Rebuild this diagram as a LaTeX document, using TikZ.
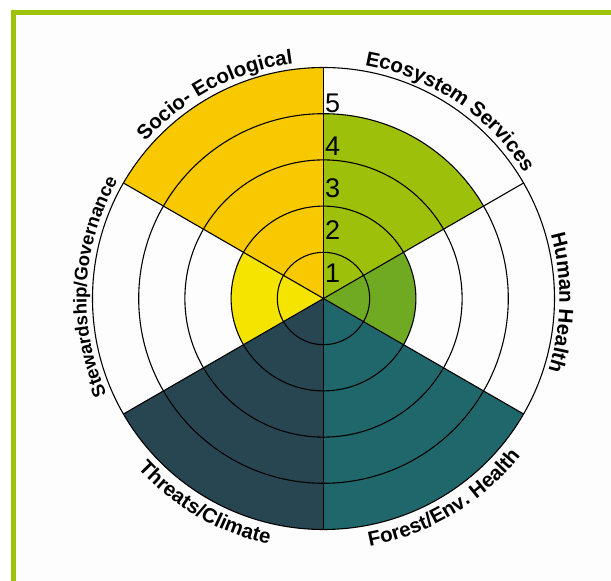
\documentclass[tikz,border=0pt]{standalone}
\usepackage{fontspec}
\usetikzlibrary{decorations.text}

\newfontfamily\chartfamily{Liberation Sans}
\newcommand\arclabelfont{\chartfamily\bfseries\fontsize{20.5}{24}\selectfont}
\newcommand\arclabelsmallfont{\chartfamily\bfseries\fontsize{18.5}{22}\selectfont}
\newcommand\scorefont{\chartfamily\fontsize{27}{30}\selectfont}

\definecolor{framegreen}{HTML}{9DC40A}
\definecolor{paper}{HTML}{FDFDFD}
\definecolor{socio}{HTML}{F9C900}
\definecolor{steward}{HTML}{F5E400}
\definecolor{ecosys}{HTML}{9DC10A}
\definecolor{human}{HTML}{6FAA22}
\definecolor{forest}{HTML}{20676C}
\definecolor{threats}{HTML}{284652}

\tikzset{ring/.style={draw=black, line width=1.1pt}}
\tikzset{spoke/.style={draw=black, line width=1.1pt}}
\tikzset{score/.style={anchor=west, inner sep=0pt, font=\scorefont}}
\tikzset{arclabel/.style={decorate, decoration={text along path, text align=center, text={|\arclabelfont|#1}}}}
\tikzset{arclabelsmall/.style={decorate, decoration={text along path, text align=center, text={|\arclabelsmallfont|#1}}}}

\begin{document}
\begin{tikzpicture}[x=1pt, y=1pt]
  \useasboundingbox (-323.5,-282.5) rectangle (287.5,298.5);

  % page and frame
  \fill[paper] (-307.5,-282.5) rectangle (287.5,283.5);
  \draw[framegreen, line width=5pt] (-310,-282.5) -- (-310,286) -- (287.5,286);

  % sectors
  \fill[socio] (0,0) -- (90:231) arc (90:150:231) -- cycle;
  \fill[ecosys] (0,0) -- (30:184.8) arc (30:90:184.8) -- cycle;
  \fill[human] (0,0) -- (-30:92.4) arc (-30:30:92.4) -- cycle;
  \fill[forest] (0,0) -- (-90:231) arc (-90:-30:231) -- cycle;
  \fill[threats] (0,0) -- (-150:231) arc (-150:-90:231) -- cycle;
  \fill[steward] (0,0) -- (150:92.4) arc (150:210:92.4) -- cycle;

  % rings
  \coordinate (hub) at (0,0);
  \draw[ring] (hub) circle (46.2);
  \draw[ring] (hub) circle (92.4);
  \draw[ring] (hub) circle (138.6);
  \draw[ring] (hub) circle (184.8);
  \draw[ring] (hub) circle (231);

  % spokes
  \coordinate (s1) at (90:231);
  \coordinate (s2) at (30:231);
  \coordinate (s3) at (-30:231);
  \coordinate (s4) at (-90:231);
  \coordinate (s5) at (-150:231);
  \coordinate (s6) at (150:231);
  \draw[spoke] (hub) -- (s1);
  \draw[spoke] (hub) -- (s2);
  \draw[spoke] (hub) -- (s3);
  \draw[spoke] (hub) -- (s4);
  \draw[spoke] (hub) -- (s5);
  \draw[spoke] (hub) -- (s6);

  % scale
  \node (one) [score] at (1.5,25.2) {1};
  \node (two) [score] at (1.5,68.5) {2};
  \node (three) [score] at (1.5,109.8) {3};
  \node (four) [score] at (1.5,151.8) {4};
  \node (five) [score] at (1.5,195) {5};

  % labels
  \path[arclabel={Socio- Ecological}] (148:237) arc (148:88:237);
  \path[arclabel={Ecosystem Services}] (86:237) arc (86:26:237);
  \path[arclabel={Human Health}] (29:236) arc (29:-31:236);
  \path[arclabel={Forest/Env. Health}] (-89:252) arc (-89:-29:252);
  \path[arclabel={Threats/Climate}] (-150:252) arc (-150:-90:252);
  \path[arclabelsmall={Stewardship/Governance}] (207:237) arc (207:147:237);
\end{tikzpicture}
\end{document}
